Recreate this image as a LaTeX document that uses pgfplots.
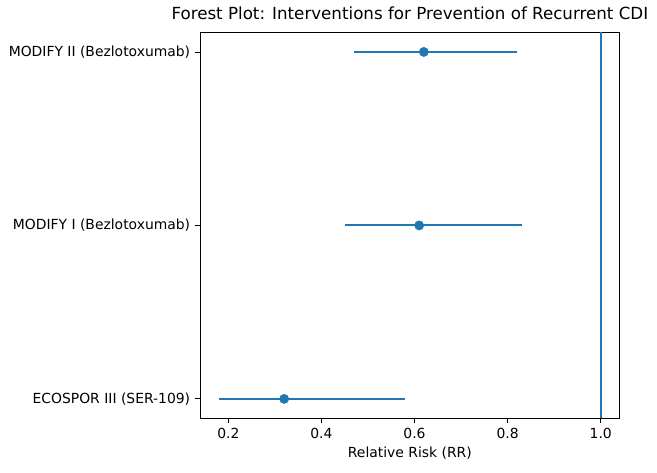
\documentclass[border=0pt]{standalone}
\usepackage{fontspec}
\setmainfont{DejaVu Sans}
\usepackage{pgfplots}
\pgfplotsset{compat=1.18}
\definecolor{mplblue}{HTML}{1F77B4}

\begin{document}
\fontsize{10bp}{12bp}\selectfont
\begin{tikzpicture}
\begin{axis}[
  scale only axis,
  width=302bp, height=277bp,
  xmin=0.139, xmax=1.041,
  ymin=-0.11, ymax=2.11,
  xtick={0.2,0.4,0.6,0.8,1.0},
  xticklabel style={/pgf/number format/.cd, fixed, fixed zerofill, precision=1},
  /pgf/number format/assume math mode=true,
  ytick={0,1,2},
  yticklabels={ECOSPOR III (SER-109), MODIFY I (Bezlotoxumab), MODIFY II (Bezlotoxumab)},
  tick align=outside,
  major tick length=3.5bp,
  xtick pos=bottom, ytick pos=left,
  tick style={black, line width=0.6bp},
  axis line style={line width=0.6bp},
  ticklabel style={font=\fontsize{10bp}{12bp}\selectfont},
  xlabel={Relative Risk (RR)},
  xlabel style={font=\fontsize{10bp}{12bp}\selectfont, yshift=1bp},
  title={Forest Plot: Interventions for Prevention of Recurrent CDI},
  title style={font=\fontsize{12bp}{14bp}\selectfont, yshift=0bp},
  clip=true,
]
% point estimates with 95% CI (asymmetric)
\addplot[mplblue, only marks, mark=*, mark size=3.3bp,
  error bars/.cd, x dir=both, x explicit, error mark=none,
  error bar style={line width=1.5bp, mplblue}]
  coordinates {
    (0.32,0) += (0.26,0) -= (0.14,0)
    (0.61,1) += (0.22,0) -= (0.16,0)
    (0.62,2) += (0.20,0) -= (0.15,0)
  };
% no-effect line
\addplot[mplblue, line width=1.5bp] coordinates {(1,-1) (1,3)};
\end{axis}
% a little white margin, as in the reference
\path (current bounding box.south west) ++(-3bp,-6.5bp)
      (current bounding box.north east) ++(3bp,1.5bp);
\end{tikzpicture}
\end{document}
